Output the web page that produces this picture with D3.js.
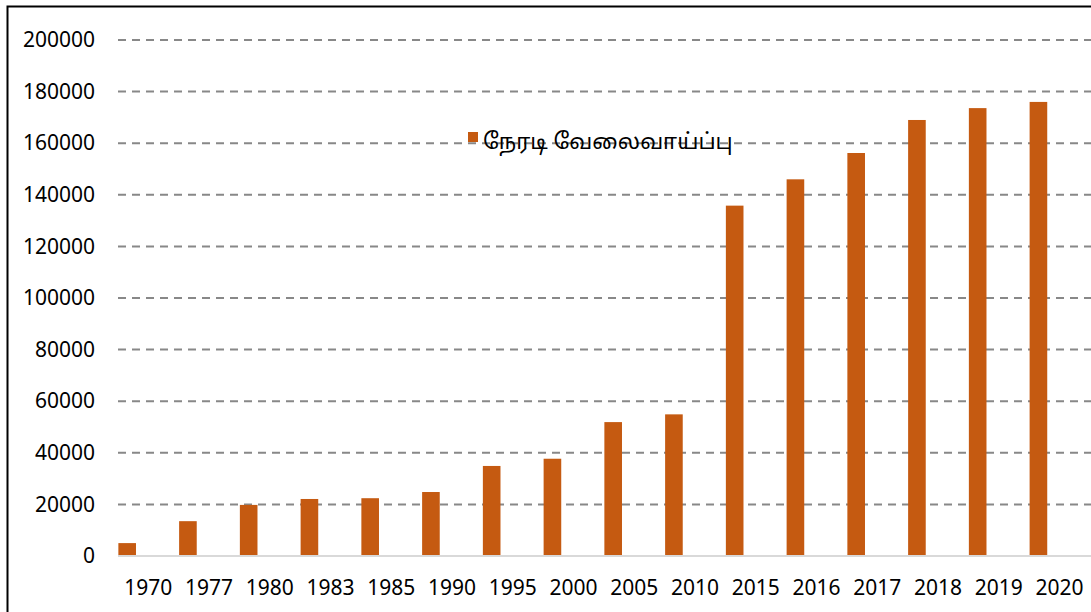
<!DOCTYPE html>
<html lang="ta">
<head>
<meta charset="utf-8">
<script src="https://cdn.jsdelivr.net/npm/d3@7"></script>
<style>
  body { margin: 0; background: #fff; }
  svg text { font-family: "Noto Sans", "Open Sans", sans-serif; fill: #000; }
  .legend-text { font-family: "Noto Sans Tamil", "Lohit Tamil", "Latha", "Noto Sans", sans-serif; }
</style>
</head>
<body>
<svg id="chart" width="1091" height="612"></svg>
<script>
  // direct employment by year
  const years = ['1970', '1977', '1980', '1983', '1985', '1990', '1995', '2000',
                 '2005', '2010', '2015', '2016', '2017', '2018', '2019', '2020'];
  const jobs = [5000, 13500, 19800, 22100, 22400, 24800, 34900, 37700,
                51900, 54900, 135800, 146000, 156200, 169000, 173600, 176000];
  const yTicks = [0, 20000, 40000, 60000, 80000, 100000, 120000, 140000, 160000, 180000, 200000];
  const seriesName = 'நேரடி வேலைவாய்ப்பு';

  const svg = d3.select('#chart');
  const plotLeft = 118, plotRight = 1091, plotTop = 40, plotBottom = 556;

  // outer frame (right & bottom edges fall outside the picture)
  svg.append('rect')
    .attr('x', 7.5).attr('y', 6.5).attr('width', 1100).attr('height', 620)
    .attr('fill', 'none').attr('stroke', '#000').attr('stroke-width', 2);

  const x = d3.scaleBand().domain(years)
    .range([96.8, 1068.8]).paddingInner(0.71).paddingOuter(0.355);
  const y = d3.scaleLinear().domain([0, 200000]).range([plotBottom, plotTop]);

  // gridlines
  svg.append('g').selectAll('line').data(yTicks.slice(1)).enter()
    .append('line')
    .attr('x1', plotLeft).attr('x2', plotRight)
    .attr('y1', d => y(d)).attr('y2', d => y(d))
    .attr('stroke', '#888').attr('stroke-width', 2)
    .attr('stroke-dasharray', '8,6');

  // y axis labels
  const yAxis = svg.append('g').attr('transform', `translate(${plotLeft},0)`)
    .call(d3.axisLeft(y).tickValues(yTicks).tickSize(0).tickPadding(23).tickFormat(d3.format('d')));
  yAxis.select('.domain').remove();
  yAxis.selectAll('text').attr('font-size', 21).attr('fill', '#000');

  // bars
  svg.append('g').selectAll('rect').data(jobs).enter()
    .append('rect')
    .attr('x', (d, i) => x(years[i]))
    .attr('y', d => y(d))
    .attr('width', x.bandwidth())
    .attr('height', d => plotBottom - y(d))
    .attr('fill', '#C55A11');

  // baseline
  svg.append('line')
    .attr('x1', plotLeft).attr('x2', plotRight).attr('y1', plotBottom).attr('y2', plotBottom)
    .attr('stroke', '#d9d9d9').attr('stroke-width', 2);

  // x axis labels (sit a little right of the bars in the source)
  const xAxis = svg.append('g').attr('transform', `translate(21,${plotBottom})`)
    .call(d3.axisBottom(x).tickSize(0).tickPadding(24));
  xAxis.select('.domain').remove();
  xAxis.selectAll('text').attr('font-size', 21).attr('fill', '#000');

  // legend
  const legend = svg.append('g').attr('transform', 'translate(468,132)');
  legend.append('rect').attr('width', 10).attr('height', 10).attr('fill', '#C55A11');
  legend.append('text').attr('class', 'legend-text')
    .attr('x', 15).attr('y', 11).attr('dominant-baseline', 'central')
    .attr('font-size', 22).text(seriesName);
</script>
</body>
</html>
